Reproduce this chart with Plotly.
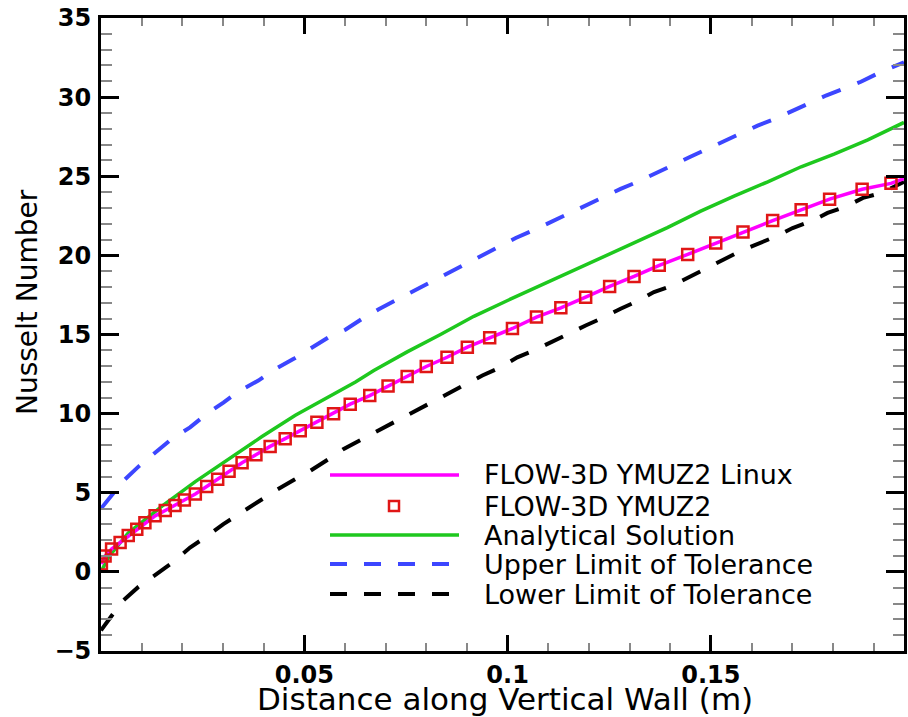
import plotly.graph_objects as go

# ---------------- data ----------------
sim_x = [0.0001, 0.0010, 0.0026, 0.0047, 0.0067, 0.0088, 0.0108, 0.0133, 0.0158, 0.0182,
         0.0205, 0.0232, 0.0260, 0.0287, 0.0315, 0.0347, 0.0381, 0.0416, 0.0453, 0.0490,
         0.0531, 0.0572, 0.0613, 0.0661, 0.0706, 0.0753, 0.0800, 0.0851, 0.0901, 0.0956,
         0.1012, 0.1071, 0.1131, 0.1192, 0.1251, 0.1311, 0.1373, 0.1443, 0.1512, 0.1579,
         0.1652, 0.1722, 0.1792, 0.1872, 0.1943]
sim_nu = [0.50, 1.00, 1.44, 1.85, 2.30, 2.70, 3.10, 3.54, 3.88, 4.20,
          4.54, 4.92, 5.40, 5.85, 6.36, 6.90, 7.40, 7.93, 8.42, 8.92,
          9.45, 10.00, 10.60, 11.14, 11.75, 12.34, 12.98, 13.56, 14.20, 14.79,
          15.38, 16.10, 16.69, 17.36, 18.04, 18.67, 19.37, 20.06, 20.78, 21.47,
          22.20, 22.88, 23.55, 24.18, 24.55]

linux_x = sim_x + [0.1975]
linux_nu = sim_nu + [24.85]

ana_x = [0.0, 0.0020, 0.0067, 0.0150, 0.0232, 0.0314, 0.0396, 0.0478, 0.0560, 0.0626,
         0.0671, 0.0753, 0.0835, 0.0917, 0.1000, 0.1081, 0.1163, 0.1246, 0.1328, 0.1393,
         0.1475, 0.1557, 0.1640, 0.1722, 0.1803, 0.1886, 0.1975]
ana_nu = [0.0, 1.00, 2.45, 4.15, 5.70, 7.15, 8.55, 9.90, 11.05, 12.00,
          12.72, 13.90, 15.00, 16.15, 17.15, 18.10, 19.05, 20.00, 20.95, 21.75,
          22.80, 23.75, 24.65, 25.60, 26.40, 27.30, 28.40]

up_x = [0.0, 0.0055, 0.0092, 0.0133, 0.0174, 0.0219, 0.0260, 0.0301, 0.0342, 0.0387,
        0.0429, 0.0474, 0.0515, 0.0560, 0.0601, 0.0642, 0.0683, 0.0724, 0.0765, 0.0810,
        0.0851, 0.0897, 0.0938, 0.0983, 0.1020, 0.1065, 0.1106, 0.1151, 0.1192, 0.1233,
        0.1278, 0.1319, 0.1360, 0.1406, 0.1447, 0.1492, 0.1533, 0.1574, 0.1615, 0.1660,
        0.1701, 0.1742, 0.1783, 0.1828, 0.1869, 0.1915, 0.1956, 0.1975]
up_nu = [4.00, 5.75, 6.65, 7.50, 8.40, 9.13, 9.98, 10.70, 11.46, 12.09,
         12.83, 13.46, 14.10, 14.83, 15.30, 15.99, 16.60, 17.15, 17.75, 18.31,
         18.90, 19.47, 20.05, 20.63, 21.10, 21.60, 22.11, 22.64, 23.16, 23.69,
         24.20, 24.64, 25.17, 25.70, 26.20, 26.75, 27.25, 27.70, 28.20, 28.65,
         29.15, 29.60, 30.10, 30.55, 30.97, 31.55, 32.00, 32.20]

low_x = [0.0, 0.0051, 0.0092, 0.0133, 0.0174, 0.0219, 0.0256, 0.0301, 0.0342, 0.0387,
         0.0429, 0.0474, 0.0515, 0.0560, 0.0597, 0.0665, 0.0728, 0.0765, 0.0810, 0.0851,
         0.0897, 0.0938, 0.0983, 0.1024, 0.1065, 0.1106, 0.1151, 0.1192, 0.1237, 0.1278,
         0.1323, 0.1360, 0.1406, 0.1447, 0.1505, 0.1575, 0.1660, 0.1701, 0.1746, 0.1787,
         0.1833, 0.1874, 0.1919, 0.1960, 0.1975]
low_nu = [-3.70, -1.90, -0.95, -0.20, 0.55, 1.54, 2.17, 3.02, 3.70, 4.44,
          5.13, 5.80, 6.39, 7.13, 7.77, 8.70, 9.56, 10.08, 10.72, 11.25,
          11.88, 12.41, 12.93, 13.56, 13.99, 14.51, 15.04, 15.57, 16.09, 16.63,
          17.15, 17.68, 18.10, 18.63, 19.40, 20.30, 21.20, 21.73, 22.15, 22.68,
          23.10, 23.63, 23.94, 24.46, 24.65]

legend_labels = ["FLOW-3D YMUZ2 Linux", "FLOW-3D YMUZ2", "Analytical Solution",
                 "Upper Limit of Tolerance", "Lower Limit of Tolerance"]

x_tickvals = [0.05, 0.1, 0.15]
x_ticktext = ["0.05", "0.1", "0.15"]
y_tickvals = [-5, 0, 5, 10, 15, 20, 25, 30, 35]

# ---------------- styles ----------------
C_MAG = "#ff00ff"
C_RED = "#e01616"
C_GRN = "#1ec81e"
C_BLU = "#3c46ff"
C_BLK = "#000000"
DASH = "20px,18px"
FONT = "DejaVu Sans"

fig = go.Figure()
fig.add_trace(go.Scatter(x=up_x, y=up_nu, mode="lines",
                         line=dict(color=C_BLU, width=4, dash=DASH), showlegend=False))
fig.add_trace(go.Scatter(x=low_x, y=low_nu, mode="lines",
                         line=dict(color=C_BLK, width=4, dash=DASH), showlegend=False))
fig.add_trace(go.Scatter(x=ana_x, y=ana_nu, mode="lines",
                         line=dict(color=C_GRN, width=3.5), showlegend=False))
fig.add_trace(go.Scatter(x=linux_x, y=linux_nu, mode="lines",
                         line=dict(color=C_MAG, width=3.5), showlegend=False))
fig.add_trace(go.Scatter(x=sim_x, y=sim_nu, mode="markers",
                         marker=dict(symbol="square-open", size=11, color=C_RED,
                                     line=dict(color=C_RED, width=2.5)),
                         showlegend=False))

# ---------------- hand-made legend (long line samples like the original) ----------------
L, T, W, H = 101, 18, 803, 633
def px(xp):
    return (xp - L) / W
def py(yp):
    return (T + H - yp) / H

rows_y = [475, 506, 535, 564, 594]
x0, x1, xm, xt = 330, 459, 394, 482
styles = [("line", C_MAG, None), ("marker", C_RED, None), ("line", C_GRN, None),
          ("line", C_BLU, "17px,17px"), ("line", C_BLK, "17px,17px")]
shapes = []
annotations = []
for (kind, col, dash), yy, lab in zip(styles, rows_y, legend_labels):
    if kind == "line":
        shapes.append(dict(type="line", xref="paper", yref="paper",
                           x0=px(x0), x1=px(x1 if dash is None else 452), y0=py(yy), y1=py(yy),
                           line=dict(color=col, width=4 if dash else 3.5,
                                     dash=dash if dash else "solid")))
    else:
        shapes.append(dict(type="rect", xref="paper", yref="paper",
                           x0=px(xm - 5), x1=px(xm + 5), y0=py(yy - 5), y1=py(yy + 5),
                           line=dict(color=col, width=2.5), fillcolor="rgba(0,0,0,0)"))
    annotations.append(dict(text=lab, xref="paper", yref="paper", x=px(xt), y=py(yy),
                            xanchor="left", yanchor="middle", showarrow=False,
                            font=dict(family=FONT, size=27, color="black")))

annotations.append(dict(text="Distance along Vertical Wall (m)", xref="paper", yref="paper",
                        x=px(505), y=py(699), xanchor="center", yanchor="middle",
                        showarrow=False, borderpad=0,
                        font=dict(family=FONT, size=31, color="black")))
annotations.append(dict(text="Nusselt Number", xref="paper", yref="paper",
                        x=px(27), y=py(302), xanchor="center", yanchor="middle",
                        textangle=-90, showarrow=False,
                        font=dict(family=FONT, size=28, color="black")))

axis_common = dict(showgrid=False, zeroline=False, showline=True, linecolor="black",
                   linewidth=3, mirror="allticks", ticks="inside", tickcolor="black",
                   tickwidth=3, automargin=False)

fig.update_layout(
    template="none",
    width=908, height=717,
    margin=dict(l=L, r=908 - L - W, t=T, b=717 - T - H, autoexpand=False),
    paper_bgcolor="white", plot_bgcolor="white",
    showlegend=False,
    shapes=shapes, annotations=annotations,
    xaxis=dict(range=[0, 0.1975], tickvals=x_tickvals, ticktext=x_ticktext, ticklen=16,
               tickfont=dict(family=FONT, size=24, color="black", weight="bold"),
               minor=dict(dtick=0.01, tick0=0, ticks="inside", ticklen=8,
                          tickwidth=1.5, tickcolor="#888888"),
               **axis_common),
    yaxis=dict(range=[-5, 35], tickvals=y_tickvals, ticklen=18, ticklabelstandoff=2,
               tickfont=dict(family=FONT, size=24, color="black", weight="bold"),
               minor=dict(dtick=1, tick0=0, ticks="inside", ticklen=11,
                          tickwidth=1.5, tickcolor="#888888"),
               **axis_common),
)

fig.write_html("out.html",
               config={"displayModeBar": False},
               post_script="document.body.style.margin='0px';"
                           "document.body.style.overflow='hidden';")
